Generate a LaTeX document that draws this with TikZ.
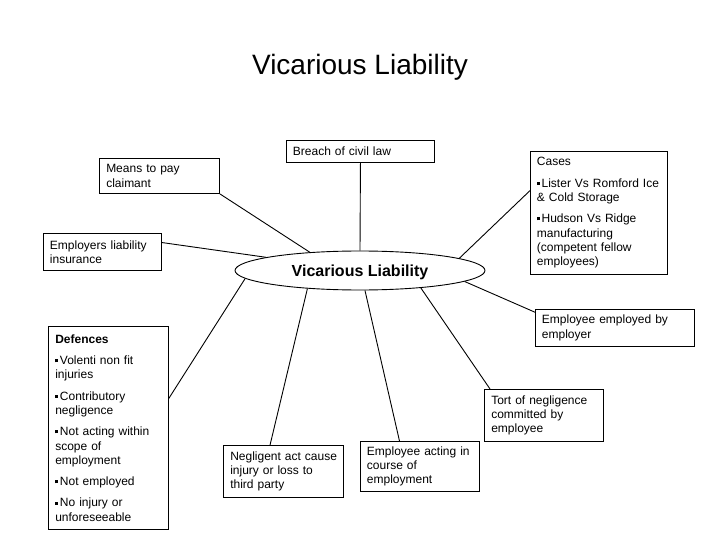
\documentclass[tikz,border=0pt]{standalone}
\usepackage{fontspec}
\setmainfont{Liberation Sans}
\usetikzlibrary{shapes.geometric}
\newcommand{\sqb}{\rule[2.3pt]{3pt}{3pt}\hspace{1.7pt}}

\begin{document}
\begin{tikzpicture}[x=1pt,y=-1pt,line width=0.9pt,
  txtbox/.style={draw,anchor=north west,align=left,inner xsep=6.5pt,inner ysep=3pt,
    font=\fontsize{12}{14.4}\selectfont}]
\useasboundingbox (0,0) rectangle (720,540);
\node[anchor=base,font=\fontsize{28}{32}\selectfont] (title) at (360,75) {Vicarious Liability};
\node[draw,ellipse,minimum width=250pt,minimum height=39pt,inner sep=0pt,text depth=0pt,
  font=\fontsize{16}{19}\selectfont\bfseries] (vl) at (360,270.5) {Vicarious Liability};
% boxes round the centre
\node[txtbox,text width=135pt,minimum height=22pt] (breach) at (286,140) {Breach of civil law};
\node[txtbox,text width=106.7pt,minimum height=35pt] (means) at (99.3,158) {Means to pay\\claimant};
\node[txtbox,text width=105pt,minimum height=37pt] (emp) at (43,233) {\mbox{Employers liability}\\insurance};
\node[txtbox,text width=123.7pt,minimum height=123.6pt] (cases) at (530,150.7)
  {Cases\\[6.8pt]\mbox{\sqb Lister Vs Romford Ice}\\\& Cold Storage\\[6.8pt]\sqb Hudson Vs Ridge\\manufacturing\\(competent fellow\\employees)};
\node[txtbox,text width=146.3pt,minimum height=36.7pt] (employed) at (535,309) {Employee employed by\\employer};
\node[txtbox,text width=106pt,minimum height=52pt] (tort) at (484.3,389) {Tort of negligence\\committed by\\employee};
\node[txtbox,text width=106.3pt,minimum height=50pt] (acting) at (360,441) {\mbox{Employee acting in}\\course of\\employment};
\node[txtbox,text width=106.4pt,minimum height=51.7pt] (negl) at (223.3,445) {\mbox{Negligent act cause}\\injury or loss to\\third party};
\node[txtbox,text width=106.4pt,minimum height=203.3pt] (def) at (48.3,326)
  {\textbf{Defences}\\[6.8pt]\sqb Volenti non fit\\injuries\\[6.8pt]\sqb Contributory\\negligence\\[6.8pt]\mbox{\sqb Not acting within}\\scope of\\employment\\[6.8pt]\sqb Not employed\\[6.8pt]\sqb No injury or\\unforeseeable};
% spokes
\draw (breach.south) -- (vl.north);
\draw (means.south east) -- (vl.160.3);
\draw (emp.9.4) -- (vl.172.4);
\draw (cases.162.5) -- (vl.7.2);
\draw (employed.169.8) -- (vl.354.3);
\draw (tort.154.2) -- (vl.344.2);
\draw (acting.129.1) -- (vl.284.7);
\draw (negl.117.9) -- (vl.199.7);
\draw (def.26.2) -- (vl.184);
\end{tikzpicture}
\end{document}
